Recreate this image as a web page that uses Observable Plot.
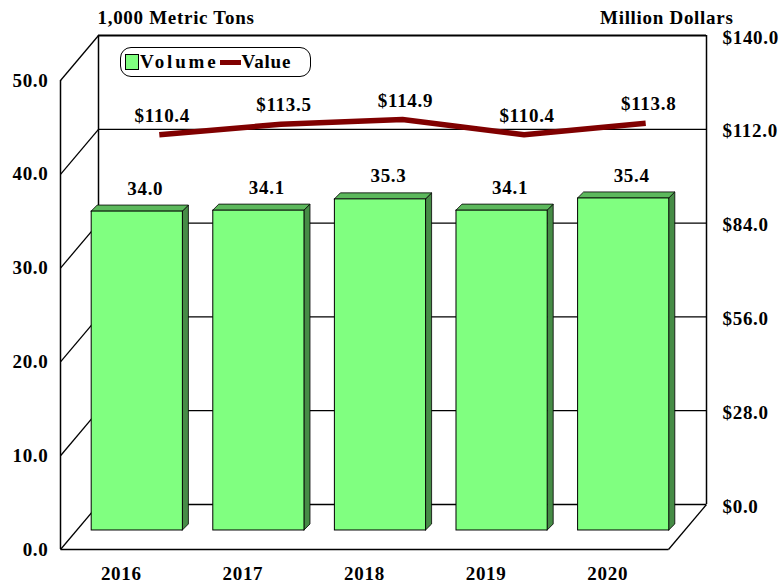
<!DOCTYPE html>
<html><head><meta charset="utf-8">
<script src="https://cdn.jsdelivr.net/npm/d3@7"></script>
<script src="https://cdn.jsdelivr.net/npm/@observablehq/plot@0.6"></script>
<style>
body{margin:0;background:#fff}
#wrap{position:relative;width:780px;height:584px}
.legend{position:absolute;left:120px;top:47px;width:189px;height:28px;border:1.5px solid #000;border-radius:11px;display:flex;align-items:center;font:bold 19px "Liberation Serif",serif;color:#000;box-sizing:content-box}
.sw{width:12px;height:14px;background:#80FF80;border:1px solid #000;margin-left:4px;margin-right:1px}
.ln{width:21px;height:5px;background:#800000;margin-left:2px;margin-right:0px}
</style></head><body><div id="wrap"></div>
<script>
const years = ["2016", "2017", "2018", "2019", "2020"];
const volume = [34.0, 34.1, 35.3, 34.1, 35.4];
const value = [110.4, 113.5, 114.9, 110.4, 113.8];
const volumeTicks = [0, 10, 20, 30, 40, 50];
const dollarTicks = [0, 28, 56, 84, 112, 140];

// 3-D geometry (in scale units)
const WX = 0.3125, WY = 4.8;     // wall/floor depth
const BFX = 0.181, BFY = 2.77;   // bar front face offset
const BBX = 0.1316, BBY = 2.13;  // bar back face offset
const HW = 0.375;                // half bar width
const toY = d => d * 50 / 140;   // dollars -> volume axis

const rows = years.map((y, i) => ({year: y, c: i + 0.5, vol: volume[i], val: value[i]}));

const sides = rows.flatMap(d => [
  {year: d.year, x: d.c - BFX + HW, y1: -BFY, y2: d.vol - BFY},
  {year: d.year, x: d.c - BBX + HW, y1: -BBY, y2: d.vol - BBY}
]);
const tops = rows.flatMap(d => [
  {year: d.year, y: d.vol - BFY, x1: d.c - BFX - HW, x2: d.c - BFX + HW},
  {year: d.year, y: d.vol - BBY, x1: d.c - BBX - HW, x2: d.c - BBX + HW}
]);

const font = {fontFamily: "Liberation Serif", fontWeight: "bold", fontSize: 19, fill: "#000"};

const chart = Plot.plot({
  width: 780, height: 584,
  marginLeft: 98, marginRight: 74, marginTop: 35, marginBottom: 80,
  x: {domain: [0, 5], axis: null},
  y: {domain: [0, 50], axis: null},
  style: {background: "#fff", overflow: "visible", letterSpacing: "0.7px"},
  marks: [
    // back wall gridlines
    Plot.ruleY(volumeTicks, {x1: 0, x2: 5, stroke: "#000", strokeWidth: d => d === 50 ? 2 : 1.3}),
    Plot.ruleX([0, 5], {y1: 0, y2: 50, stroke: "#000", strokeWidth: 1.5}),
    // left side wall diagonals and front edge
    Plot.link(volumeTicks, {x1: 0, y1: d => d, x2: -WX, y2: d => d - WY, stroke: "#000", strokeWidth: 1.3}),
    Plot.ruleX([-WX], {y1: -WY, y2: 50 - WY, stroke: "#000", strokeWidth: 1.5}),
    // floor
    Plot.link([0], {x1: -WX, y1: -WY, x2: 5 - WX, y2: -WY, stroke: "#000", strokeWidth: 1.5}),
    Plot.link([0], {x1: 5, y1: 0, x2: 5 - WX, y2: -WY, stroke: "#000", strokeWidth: 1.3}),
    // value line
    Plot.line(rows, {x: "c", y: d => toY(d.val), stroke: "#800000", strokeWidth: 5.5, strokeLinecap: "butt"}),
    Plot.text(rows, {x: "c", y: d => toY(d.val), text: d => "$" + d.val.toFixed(1), dy: -19, dx: 3, ...font}),
    // bars
    Plot.areaY(sides, {x: "x", y1: "y1", y2: "y2", z: "year", fill: "#468C46", stroke: "#000", strokeWidth: 0.8}),
    Plot.areaX(tops, {y: "y", x1: "x1", x2: "x2", z: "year", fill: "#5CB85C", stroke: "#000", strokeWidth: 0.8}),
    Plot.rect(rows, {x1: d => d.c - BFX - HW, x2: d => d.c - BFX + HW, y1: -BFY, y2: d => d.vol - BFY, fill: "#80FF80", stroke: "#000", strokeWidth: 1}),
    Plot.text(rows, {x: d => d.c - BBX, y: d => d.vol - BBY, text: d => d.vol.toFixed(1), dy: -17, dx: 2, ...font}),
    // x labels (front)
    Plot.text(rows, {x: d => d.c - WX, y: -WY, text: "year", dy: 24, ...font}),
    // left axis labels (front)
    Plot.text(volumeTicks, {x: -WX, y: d => d - WY, text: d => d.toFixed(1), dx: -12, textAnchor: "end", ...font}),
    // right axis labels (back)
    Plot.text(dollarTicks, {x: 5, y: d => toY(d), text: d => "$" + d.toFixed(1), dx: 16, dy: 2, textAnchor: "start", ...font}),
    // axis titles
    Plot.text(["1,000 Metric Tons"], {x: 0, y: 50, text: d => d, dx: -1, dy: -18, textAnchor: "start", ...font, letterSpacing: "1.5px"}),
    Plot.text(["Million Dollars"], {x: 5, y: 50, text: d => d, dx: 27, dy: -18, textAnchor: "end", ...font, letterSpacing: "1.3px"})
  ]
});

const wrap = document.getElementById("wrap");
wrap.appendChild(chart);
const lg = document.createElement("div");
lg.className = "legend";
lg.innerHTML = '<div class="sw"></div><span style="letter-spacing:2.8px">Volume</span><div class="ln"></div><span style="letter-spacing:0.8px">Value</span>';
wrap.appendChild(lg);
</script>
</body></html>
